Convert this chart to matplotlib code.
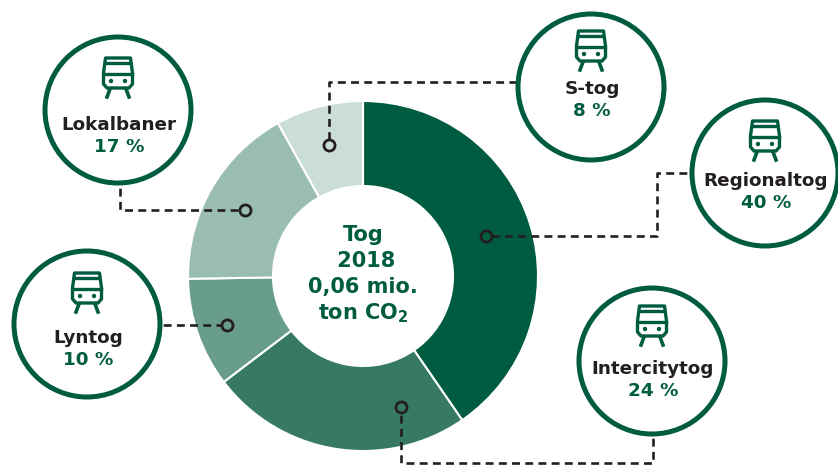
import matplotlib
matplotlib.use('Agg')
import matplotlib.pyplot as plt
from matplotlib.patches import Circle, Polygon

W, H = 838, 465

categories = ['Regionaltog', 'Intercitytog', 'Lyntog', 'Lokalbaner', 'S-tog']
shares = [40, 24, 10, 17, 8]
colors = ['#005c41', '#377a63', '#699d8b', '#9abdb1', '#cbddd8']

GREEN = '#005c41'
DARK = '#231f20'


def Y(py):
    return H - py


fig = plt.figure(figsize=(W / 100, H / 100), dpi=100)
ax = fig.add_axes([0, 0, 1, 1])

ax.pie(shares, colors=colors, startangle=90, counterclock=False, center=(363, Y(276)),
       radius=175, frame=True, wedgeprops=dict(width=85, edgecolor='white', linewidth=1.5))
ax.set_xlim(0, W)
ax.set_ylim(0, H)
ax.set_aspect('equal')
ax.axis('off')

# connector lines, in pixel coordinates of the picture
connectors = {
    'Regionaltog': [(700, 173), (657, 173), (657, 236), (486, 236)],
    'Intercitytog': [(653, 425), (653, 463), (401, 463), (401, 407)],
    'Lyntog': [(150, 325), (227, 325)],
    'Lokalbaner': [(120, 175), (120, 210), (245, 210)],
    'S-tog': [(530, 82), (329, 82), (329, 145)],
}
for name, col in zip(categories, colors):
    pts = connectors[name]
    xs = [p[0] for p in pts]
    ys = [Y(p[1]) for p in pts]
    ax.plot(xs, ys, color=DARK, lw=1.9, dashes=(3, 2), zorder=3)
    ax.plot(xs[-1], ys[-1], 'o', ms=8, mfc=col, mec=DARK, mew=2, zorder=4)


def train_icon(cx, top):
    # little train drawn from the top centre of the icon
    body = [(-12.5, 1), (12.5, 1), (14.5, 16), (14.5, 27), (11, 31), (-11, 31), (-14.5, 27), (-14.5, 16)]
    ax.add_patch(Polygon([(cx + x, Y(top + y)) for x, y in body], closed=True, fc='none', ec=GREEN,
                         lw=2.4, joinstyle='round', zorder=6))
    ax.plot([cx - 12, cx + 12], [Y(top + 6), Y(top + 6)], color=GREEN, lw=2.4, zorder=6)
    ax.plot([cx - 14, cx + 14], [Y(top + 17), Y(top + 17)], color=GREEN, lw=2.4, zorder=6)
    for dx in (-7, 7):
        ax.add_patch(Circle((cx + dx, Y(top + 24)), 2.2, fc=GREEN, ec='none', zorder=6))
    ax.plot([cx - 8, cx - 11], [Y(top + 32), Y(top + 40)], color=GREEN, lw=2.6, zorder=6)
    ax.plot([cx + 8, cx + 11], [Y(top + 32), Y(top + 40)], color=GREEN, lw=2.6, zorder=6)


# centre x, centre y, icon top, name y, share y
bubbles = {
    'Regionaltog': (765, 173, 120, 181, 203),
    'Intercitytog': (652, 361, 305, 369, 391),
    'Lyntog': (87, 324, 272, 338, 360),
    'Lokalbaner': (118, 110, 57, 125, 147),
    'S-tog': (591, 87, 30, 89, 111),
}
for name, share in zip(categories, shares):
    cx, cy, icon_top, name_y, share_y = bubbles[name]
    ax.add_patch(Circle((cx, Y(cy)), 73, fc='white', ec=GREEN, lw=3.6, zorder=5))
    train_icon(cx, icon_top)
    ax.text(cx + 1, Y(name_y), name, ha='center', va='center', fontsize=13.2, fontweight='bold', color=DARK, zorder=6)
    ax.text(cx + 1, Y(share_y), f'{share} %', ha='center', va='center', fontsize=13.2, fontweight='bold', color=GREEN, zorder=6)

plt.rcParams['mathtext.fontset'] = 'dejavusans'
center_lines = ['Tog', ' 2018', '0,06 mio.', r'ton CO$\mathbf{_2}$']
for i, line in enumerate(center_lines):
    ax.text(363, Y(235 + i * 26), line, ha='center', va='center', fontsize=15, fontweight='bold', color=GREEN, zorder=6)

fig.savefig('out.png', dpi=100)
